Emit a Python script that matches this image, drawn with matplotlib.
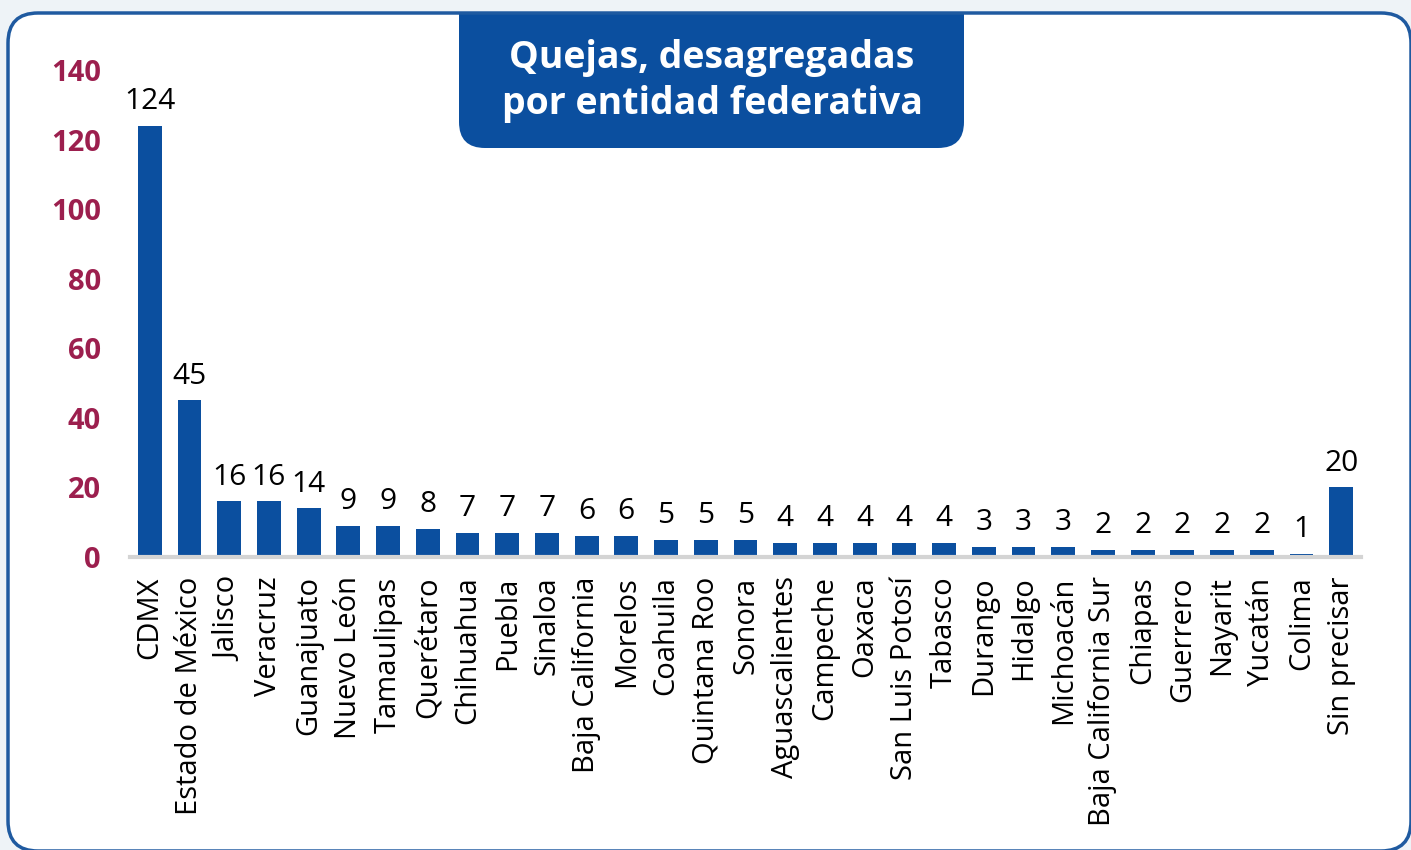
import matplotlib.pyplot as plt
from matplotlib.patches import FancyBboxPatch, Rectangle

# Datos: quejas por entidad federativa
entidades = ['CDMX', 'Estado de México', 'Jalisco', 'Veracruz', 'Guanajuato',
             'Nuevo León', 'Tamaulipas', 'Querétaro', 'Chihuahua', 'Puebla',
             'Sinaloa', 'Baja California', 'Morelos', 'Coahuila', 'Quintana Roo',
             'Sonora', 'Aguascalientes', 'Campeche', 'Oaxaca', 'San Luis Potosí',
             'Tabasco', 'Durango', 'Hidalgo', 'Michoacán', 'Baja California Sur',
             'Chiapas', 'Guerrero', 'Nayarit', 'Yucatán', 'Colima', 'Sin precisar']
quejas = [124, 45, 16, 16, 14, 9, 9, 8, 7, 7, 7, 6, 6, 5, 5, 5, 4, 4, 4, 4,
          4, 3, 3, 3, 2, 2, 2, 2, 2, 1, 20]
y_ticks = [0, 20, 40, 60, 80, 100, 120, 140]
titulo = 'Quejas, desagregadas\npor entidad federativa'

azul = '#0b4f9f'
guinda = '#9c1f4e'
fondo = '#eef3f7'
plt.rcParams['font.family'] = ['Open Sans', 'DejaVu Sans']

fig = plt.figure(figsize=(14.11, 8.5), dpi=100)
fig.patch.set_facecolor(fondo)

# capa de fondo en pixeles (panel blanco y recuadro del titulo)
bg = fig.add_axes([0, 0, 1, 1])
bg.set_xlim(0, 1411)
bg.set_ylim(850, 0)
bg.axis('off')
bg.add_patch(FancyBboxPatch((8, 13), 1403, 838, boxstyle='round,pad=0,rounding_size=30',
                            facecolor='white', edgecolor='none', zorder=0))
bg.add_patch(FancyBboxPatch((459, -40), 505, 188, boxstyle='round,pad=0,rounding_size=26',
                            facecolor=azul, edgecolor='none', zorder=1))
bg.add_patch(Rectangle((0, 0), 1411, 12, facecolor=fondo, edgecolor='none', zorder=2))
bg.add_patch(FancyBboxPatch((8, 13), 1403, 838, boxstyle='round,pad=0,rounding_size=30',
                            facecolor='none', edgecolor='#1f5aa0', linewidth=2.5, zorder=3))
bg.text(712, 81, titulo, color='white', fontsize=27, fontweight='bold',
        ha='center', va='center', linespacing=1.3, zorder=4)

# grafica de barras
ax = fig.add_axes([0.0921, 0.3447, 0.8725, 0.5729])
ax.patch.set_alpha(0)
x = range(len(entidades))
barras = ax.bar(x, quejas, width=0.6, color=azul, zorder=2)
ax.bar_label(barras, labels=[str(v) for v in quejas], padding=7, fontsize=21.5, color='black')

ax.set_xlim(-0.5, len(entidades) - 0.5)
ax.set_ylim(0, 140)
ax.set_yticks(y_ticks)
ax.set_yticklabels([str(t) for t in y_ticks], fontsize=21, fontweight='bold', color=guinda)
ax.set_xticks(list(x))
ax.set_xticklabels(entidades, rotation=90, fontsize=21, va='top')
ax.tick_params(axis='y', length=0, pad=21)
ax.tick_params(axis='x', length=0, pad=14)
for lado in ['top', 'right', 'left']:
    ax.spines[lado].set_visible(False)
ax.spines['bottom'].set_color('#d4d4d4')
ax.spines['bottom'].set_linewidth(3)

plt.savefig('out.png', dpi=100, facecolor=fondo)
